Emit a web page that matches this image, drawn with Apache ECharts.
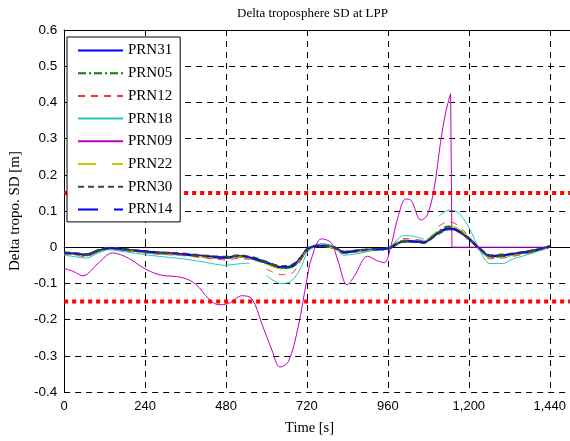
<!DOCTYPE html>
<html>
<head>
<meta charset="utf-8">
<script src="https://cdn.jsdelivr.net/npm/echarts@6/dist/echarts.min.js"></script>
<style>html,body{margin:0;padding:0;background:#fff;}#chart{width:570px;height:441px;}</style>
</head>
<body>
<div id="chart"></div>
<script>
// Time samples [s] shared by the clustered satellites
const T = [0, 30, 66, 100, 135, 175, 212, 260, 310, 360,
  420, 478, 517, 550, 572, 600, 645, 675, 700, 724,
  763, 800, 830, 870, 910, 959, 1008, 1038, 1067, 1090,
  1110, 1141, 1165, 1200, 1234, 1263, 1300, 1332, 1391, 1440];

const PRN31 = [-0.016,-0.018,-0.021,-0.010,-0.003,-0.006,-0.010,-0.014,-0.017,-0.020,
  -0.025,-0.029,-0.025,-0.029,-0.034,-0.043,-0.056,-0.053,-0.032,-0.004,
  0.004,-0.001,-0.014,-0.010,-0.007,-0.004,0.017,0.016,0.014,0.027,
  0.040,0.052,0.047,0.024,-0.006,-0.025,-0.023,-0.019,-0.010,0.002];
const PRN05 = [-0.017,-0.019,-0.022,-0.011,-0.004,-0.007,-0.011,-0.015,-0.018,-0.021,
  -0.026,-0.030,-0.026,-0.030,-0.036,-0.045,-0.058,-0.055,-0.033,-0.005,
  0.003,-0.002,-0.015,-0.011,-0.008,-0.004,0.018,0.017,0.015,0.030,
  0.044,0.057,0.051,0.026,-0.006,-0.027,-0.025,-0.021,-0.011,0.002];
const PRN12 = [-0.019,-0.022,-0.026,-0.013,-0.005,-0.009,-0.013,-0.018,-0.021,-0.024,
  -0.030,-0.035,-0.031,-0.034,null,-0.060,-0.076,-0.072,-0.040,-0.006,
  0.004,-0.004,-0.018,-0.013,-0.009,-0.004,0.024,0.022,0.018,null,
  0.058,0.070,0.062,0.030,-0.008,-0.032,-0.030,-0.025,-0.014,0.002];
const PRN18 = [-0.022,-0.026,-0.030,-0.016,-0.007,-0.012,-0.017,-0.023,-0.028,-0.033,
  -0.042,-0.050,-0.046,-0.044,null,-0.078,-0.101,-0.092,-0.060,-0.012,
  0.010,0.002,-0.022,-0.018,-0.010,-0.004,0.032,0.030,0.022,null,
  0.085,0.102,0.098,0.055,-0.012,-0.045,-0.045,-0.032,-0.016,0.002];
const PRN22 = [-0.018,-0.020,-0.023,-0.012,-0.004,-0.008,-0.012,-0.016,-0.019,-0.022,
  -0.027,-0.031,-0.027,-0.031,-0.037,-0.047,-0.060,-0.057,-0.034,-0.005,
  0.003,-0.003,-0.016,-0.012,-0.008,-0.004,0.019,0.018,0.016,0.032,
  0.046,0.059,0.053,0.027,-0.007,-0.028,-0.026,-0.022,-0.012,0.002];
const PRN30 = [-0.015,-0.017,-0.020,-0.009,-0.002,-0.005,-0.009,-0.013,-0.016,-0.019,
  -0.024,-0.027,-0.023,-0.027,-0.032,-0.041,-0.053,-0.050,-0.030,-0.003,
  0.005,0.000,-0.013,-0.009,-0.006,-0.003,0.016,0.015,0.013,0.025,
  0.038,0.050,0.046,0.023,-0.005,-0.023,-0.021,-0.018,-0.009,0.002];
const PRN14 = [-0.016,-0.018,-0.021,-0.010,-0.003,-0.006,-0.010,-0.014,-0.017,-0.020,
  -0.025,-0.028,-0.024,-0.028,-0.033,-0.042,-0.054,-0.051,-0.031,-0.004,
  0.004,-0.001,-0.014,-0.010,-0.007,-0.004,0.017,0.016,0.014,0.026,
  0.039,0.051,0.047,0.024,-0.006,-0.024,-0.022,-0.019,-0.010,0.002];

// PRN09 has its own samples
const T09 = [0, 25, 56, 100, 144, 190, 233, 282, 350, 390,
  429, 459, 488, 528, 557, 586, 616, 640, 665, 694,
  719, 734, 763, 792, 812, 839, 861, 900, 930, 949,
  970, 989, 1013, 1028, 1058, 1077, 1097, 1116, 1131, 1146];
const V09 = [-0.059,-0.066,-0.079,-0.045,-0.016,-0.030,-0.056,-0.076,-0.084,-0.102,
  -0.143,-0.159,-0.155,-0.134,-0.143,-0.211,-0.284,-0.331,-0.316,-0.220,
  -0.093,-0.029,0.023,0.012,-0.038,-0.104,-0.079,-0.025,-0.038,-0.043,
  0.007,0.080,0.133,0.130,0.075,0.089,0.162,0.289,0.371,0.424];
const T09drop = [1146, 1150, 1440];
const V09drop = [0.424, 0, 0];

// Threshold lines
const limitT = [0, 1500];
const limitUp = [0.15, 0.15];
const limitDown = [-0.15, -0.15];

const xTicks = [0, 240, 480, 720, 960, 1200, 1440];

function pairs(t, v) { return t.map((x, i) => [x, v[i]]); }

const serif = 'Liberation Serif';
const sans = 'Liberation Sans';

function lineSeries(name, vals, color, width, type) {
  return {
    name: name, type: 'line', data: pairs(T, vals), smooth: 0.35,
    symbol: 'none', connectNulls: false,
    lineStyle: { color: color, width: width, type: type },
    itemStyle: { color: color }
  };
}

const chart = echarts.init(document.getElementById('chart'), null, { renderer: 'canvas' });
const option = {
  animation: false,
  backgroundColor: '#fff',
  title: {
    text: 'Delta troposphere SD at LPP', left: 232, top: 2,
    textStyle: { fontFamily: serif, fontSize: 13, fontWeight: 'normal', color: '#000' }
  },
  grid: { left: 61, right: 0, top: 30, bottom: 45 },
  legend: {
    data: ['PRN31', 'PRN05', 'PRN12', 'PRN18', 'PRN09', 'PRN22', 'PRN30', 'PRN14'],
    orient: 'vertical', left: 67, top: 37,
    itemWidth: 45, itemHeight: 14, itemGap: 7.7,
    padding: [6, 8, 5, 10],
    backgroundColor: '#fff', borderColor: '#000', borderWidth: 1,
    itemStyle: { opacity: 0 },
    textStyle: { fontFamily: serif, fontSize: 15, color: '#000' },
    selectedMode: false
  },
  xAxis: [{
    type: 'value', min: 0, max: 1500, interval: 240,
    name: 'Time [s]', nameLocation: 'middle', nameGap: 29,
    nameTextStyle: { fontFamily: serif, fontSize: 14.5, color: '#000', padding: [0, 15, 0, 0] },
    axisLine: { show: true, lineStyle: { color: '#000', width: 1 } },
    axisTick: { show: true, inside: true, length: 5, lineStyle: { color: '#000' } },
    axisLabel: {
      fontFamily: sans, fontSize: 13, color: '#000', margin: 8, showMaxLabel: false,
      formatter: function (v) { return xTicks.indexOf(v) >= 0 ? String(v).replace(/\B(?=(\d{3})+(?!\d))/g, ',') : ''; }
    },
    splitLine: { show: true, lineStyle: { color: '#000', width: 1, type: [6, 5] } }
  }, {
    type: 'value', position: 'top', min: 0, max: 1500, interval: 240,
    axisLine: { show: true, lineStyle: { color: '#000', width: 1 } },
    axisTick: { show: true, inside: true, length: 5, lineStyle: { color: '#000' } },
    axisLabel: { show: false }, splitLine: { show: false }
  }],
  yAxis: {
    type: 'value', min: -0.4, max: 0.6, interval: 0.1,
    name: 'Delta tropo. SD [m]', nameLocation: 'middle', nameGap: 40,
    nameTextStyle: { fontFamily: serif, fontSize: 15, color: '#000' },
    axisLine: { show: true, lineStyle: { color: '#000', width: 1 } },
    axisTick: { show: true, inside: true, length: 5, lineStyle: { color: '#000' } },
    axisLabel: {
      fontFamily: sans, fontSize: 13.5, color: '#000', margin: 7,
      formatter: function (v) { const r = Math.round(v * 10) / 10; return r === 0 ? '0' : r.toFixed(1); }
    },
    splitLine: { show: true, lineStyle: { color: '#000', width: 1, type: [6, 5] } }
  },
  series: [
    lineSeries('PRN31', PRN31, '#0000ff', 2.5, 'solid'),
    lineSeries('PRN05', PRN05, '#008000', 2, [8, 3, 2, 3]),
    lineSeries('PRN12', PRN12, '#ff3030', 1, [7, 6]),
    lineSeries('PRN18', PRN18, '#20c8c8', 1, 'solid'),
    {
      name: 'PRN09', type: 'line', data: pairs(T09, V09), smooth: 0.35, symbol: 'none',
      lineStyle: { color: '#c000c0', width: 1 }, itemStyle: { color: '#c000c0' }
    },
    {
      name: 'PRN09 end', type: 'line', data: pairs(T09drop, V09drop), smooth: false, symbol: 'none',
      lineStyle: { color: '#c000c0', width: 1 }, itemStyle: { color: '#c000c0' }
    },
    lineSeries('PRN22', PRN22, '#c8c800', 1, [18, 16]),
    lineSeries('PRN30', PRN30, '#404040', 2.5, [6, 4]),
    lineSeries('PRN14', PRN14, '#0000ff', 1, [20, 16]),
    {
      name: 'limit up', type: 'line', data: pairs(limitT, limitUp), symbol: 'none', silent: true,
      lineStyle: { color: '#ff0000', width: 4, type: [4, 4] }
    },
    {
      name: 'limit down', type: 'line', data: pairs(limitT, limitDown), symbol: 'none', silent: true,
      lineStyle: { color: '#ff0000', width: 4, type: [4, 4] }
    }
  ]
};
chart.setOption(option);
</script>
</body>
</html>
